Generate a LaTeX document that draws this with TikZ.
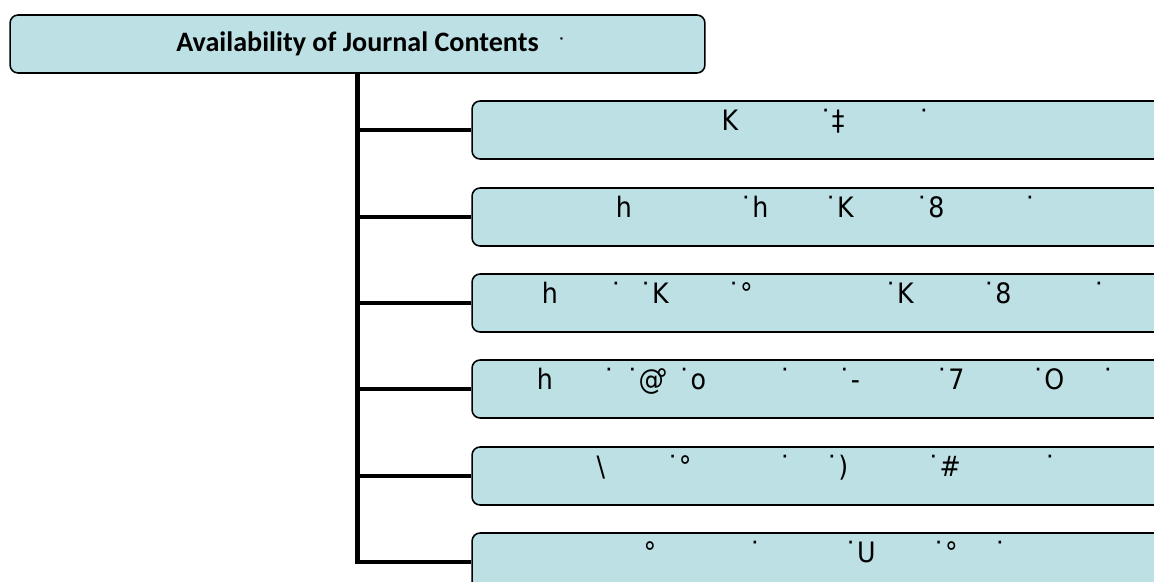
\documentclass[tikz,border=0pt]{standalone}
\usepackage{fontspec}
\setmainfont{Carlito}
\newfontfamily\glyphfont{DejaVu Sans Condensed}

\definecolor{boxfill}{RGB}{188,224,228}

% glyph #2 centred at pixel x = #1 (box centre at 823.5)
\newlength\glunit
\setlength\glunit{0.02cm}
\newcommand\gl[2]{\rlap{\hspace*{#1\glunit}\hspace*{-823.5\glunit}\makebox[0pt]{\smash{#2}}}}

\begin{document}
\begin{tikzpicture}[x=0.02cm,y=-0.02cm]

      \useasboundingbox (0,0) rectangle (1154,582);
      \clip (0,0) rectangle (1154,582);

      \begin{scope}[every node/.style={draw,fill=boxfill,rounded corners=0.16cm,line width=0.9pt,minimum height=1.16cm,inner sep=0pt}]
        \node[minimum width=13.9cm,font=\bfseries\fontsize{16}{18}\selectfont] (top) at (357.5,44) {\raisebox{2pt}{Availability of Journal Contents}\rlap{\hspace{0.38cm}\raisebox{2pt}{\glyphfont\fontsize{10}{12}\selectfont ˙}}};
        \begin{scope}[every node/.append style={minimum width=14.06cm,font=\glyphfont\fontsize{16}{18}\selectfont}]
          \node (1) at (823.5,130) {\gl{730}{K}\gl{832}{˙‡}\gl{924}{˙}};
          \node (2) at (823.5,217) {\gl{624}{h}\gl{754}{˙h}\gl{839}{˙K}\gl{930}{˙8}\gl{1030}{˙}};
          \node (3) at (823.5,303) {\gl{550}{h}\gl{616}{˙}\gl{654}{˙K}\gl{740}{˙°}\gl{899}{˙K}\gl{997}{˙8}\gl{1099}{˙}};
          \node (4) at (823.5,389) {\gl{545}{h}\gl{609}{˙}\gl{645}{˙@}\gl{662}{°}\gl{692}{˙o}\gl{785}{˙}\gl{849}{˙-}\gl{950}{˙7}\gl{1048}{˙O}\gl{1108}{˙}};
          \node (5) at (823.5,476) {\gl{601}{\textbackslash}\gl{679}{˙°}\gl{785}{˙}\gl{837}{˙)}\gl{944}{˙\#}\gl{1050}{˙}};
          \node (6) at (823.5,562) {\gl{650}{°}\gl{755}{˙}\gl{860}{˙U}\gl{945}{˙°}\gl{1000}{˙}};
        \end{scope}
      \end{scope}

      \begin{scope}[every edge/.style={draw,line width=2.8pt}]
        \path (top.south) edge[to path={|- (\tikztotarget)}] (6.west);
        \path (top.south |- 1.west) edge (1.west);
        \path (top.south |- 2.west) edge (2.west);
        \path (top.south |- 3.west) edge (3.west);
        \path (top.south |- 4.west) edge (4.west);
        \path (top.south |- 5.west) edge (5.west);
      \end{scope}

    \end{tikzpicture}
\end{document}
